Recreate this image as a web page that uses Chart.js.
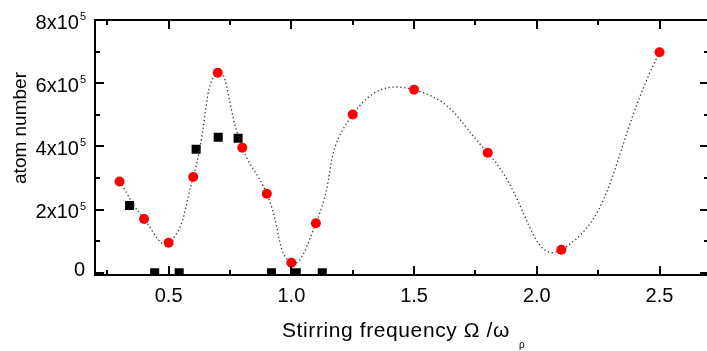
<!DOCTYPE html>
<html>
<head>
<meta charset="utf-8">
<script src="https://cdn.jsdelivr.net/npm/chart.js@4/dist/chart.umd.min.js"></script>
<style>
  html, body { margin: 0; padding: 0; background: #fff; overflow: hidden; width: 707px; height: 351px; }
  canvas { display: block; }
</style>
</head>
<body>
<canvas id="c" width="715" height="351"></canvas>
<script>
// Stirring frequency (units of omega_rho) and the atom numbers measured there
const redFreq   = [0.3, 0.4, 0.5, 0.6, 0.7, 0.8, 0.9, 1.0, 1.1, 1.25, 1.5, 1.8, 2.1, 2.5];
const redAtoms  = [289000, 170000, 95000, 303000, 633000, 396000, 250000, 32000, 157000, 501000, 579000, 380000, 73000, 698000];
const blackFreq  = [0.341, 0.443, 0.543, 0.612, 0.702, 0.783, 0.919, 1.020, 1.126];
const blackAtoms = [213000, 0, 0, 391000, 429000, 426000, 0, 0, 0];

// Axis ticks and their labels
const xTickValues = [0.5, 1.0, 1.5, 2.0, 2.5];
const xTickLabels = ['0.5', '1.0', '1.5', '2.0', '2.5'];
const yTickValues = [0, 200000, 400000, 600000, 800000];
const yTickLabels = ['0', '2x10', '4x10', '6x10', '8x10'];
const yTickPowers = ['', '5', '5', '5', '5'];

const FONT = '"Liberation Sans", Arial, Helvetica, sans-serif';

const toPoints = (xs, ys) => xs.map((x, i) => ({ x: x, y: ys[i] }));

// Axis lines only: labels and ticks are drawn by the plugin below
const bareAxis = (extra) => Object.assign({
  type: 'linear',
  display: true,
  ticks: { display: false },
  grid: { display: true, drawOnChartArea: false, drawTicks: false, tickLength: 0, color: 'rgba(0,0,0,0)' },
  border: { display: true, color: '#000', width: 2 }
}, extra);

// Inward ticks, tick labels and axis titles
const framePlugin = {
  id: 'frame',
  afterDraw(chart) {
    const { ctx, chartArea: a } = chart;
    const xs = chart.scales.x, ys = chart.scales.y;
    const L = Math.round(a.left), R = Math.round(a.right);
    const T = Math.round(a.top), B = Math.round(a.bottom);
    ctx.save();
    ctx.setLineDash([]);
    ctx.fillStyle = '#000000';

    ctx.fillRect(L - 1, T - 1, R - L + 2, 2);
    ctx.fillRect(L - 1, B - 1, R - L + 2, 2);
    ctx.fillRect(L - 1, T - 1, 2, B - T + 2);
    ctx.fillRect(R - 1, T - 1, 2, B - T + 2);

    const major = 9, minor = 5;
    // x ticks every 0.25, major every 0.5
    for (let k = 1; k <= 11; k++) {
      const v = k * 0.25;
      if (v <= xs.min || v >= xs.max) continue;
      const px = Math.round(xs.getPixelForValue(v));
      const len = (k % 2 === 0) ? major : minor;
      ctx.fillRect(px - 1, B - len, 2, len);
      ctx.fillRect(px - 1, T, 2, len);
    }
    // y ticks every 1e5, major every 2e5
    for (let k = 0; k <= 8; k++) {
      const v = k * 100000;
      const py = Math.round(ys.getPixelForValue(v));
      const len = (k % 2 === 0) ? major : minor;
      ctx.fillRect(L, py - 1, len, 2);
      ctx.fillRect(R - len, py - 1, len, 2);
    }

    // x tick labels
    ctx.font = '20px ' + FONT;
    ctx.textAlign = 'center';
    ctx.textBaseline = 'alphabetic';
    xTickValues.forEach((v, i) => {
      ctx.fillText(xTickLabels[i], xs.getPixelForValue(v), B + 27);
    });

    // y tick labels with superscript powers
    const rightEdge = L - 9;
    yTickValues.forEach((v, i) => {
      const py = ys.getPixelForValue(v);
      ctx.font = '11px ' + FONT;
      const pw = yTickPowers[i] ? ctx.measureText(yTickPowers[i]).width : 0;
      ctx.textAlign = 'left';
      if (pw) ctx.fillText(yTickPowers[i], rightEdge - pw, py + 0);
      ctx.font = '20px ' + FONT;
      ctx.textAlign = 'right';
      const dy = v === 0 ? 3 : 8.5;
      ctx.fillText(yTickLabels[i], rightEdge - pw - 1, py + dy);
    });

    // x axis title: Stirring frequency Ω /ω_ρ
    ctx.font = '21px ' + FONT;
    if ('letterSpacing' in ctx) ctx.letterSpacing = '0.6px';
    const main = 'Stirring frequency \u03A9 /\u03C9';
    const mw = ctx.measureText(main).width;
    ctx.textAlign = 'left';
    const x0 = 282;
    ctx.fillText(main, x0, 337);
    if ('letterSpacing' in ctx) ctx.letterSpacing = '0px';
    ctx.font = '10px ' + FONT;
    ctx.fillText('\u03C1', x0 + mw + 9, 348);

    // y axis title
    ctx.font = '19px ' + FONT;
    ctx.translate(25.5, 128);
    ctx.rotate(-Math.PI / 2);
    ctx.textAlign = 'center';
    ctx.fillText('atom number', 0, 0);
    ctx.restore();
  }
};

new Chart(document.getElementById('c'), {
  type: 'scatter',
  data: {
    datasets: [
      {
        label: 'series 1',
        data: toPoints(redFreq, redAtoms),
        showLine: true,
        tension: 0.5,
        borderColor: '#333',
        borderWidth: 1.3,
        borderDash: [1.3, 2.6],
        pointStyle: 'circle',
        pointRadius: 5,
        pointBorderWidth: 0,
        pointBackgroundColor: '#ff0000',
        order: 1
      },
      {
        label: 'series 2',
        data: toPoints(blackFreq, blackAtoms),
        showLine: false,
        pointStyle: 'rect',
        pointRadius: 6.4,
        pointBorderWidth: 0,
        pointBackgroundColor: '#000',
        order: 2
      }
    ]
  },
  options: {
    responsive: false,
    animation: false,
    layout: { padding: { left: 95, top: 20, right: 1, bottom: 76 } },
    plugins: { legend: { display: false }, tooltip: { enabled: false } },
    scales: {
      x:  bareAxis({ position: 'bottom', min: 0.2, max: 2.7 }),
      x2: bareAxis({ position: 'top', min: 0.2, max: 2.7 }),
      y:  bareAxis({ position: 'left', min: -7000, max: 800000 }),
      y2: bareAxis({ position: 'right', min: -7000, max: 800000 })
    }
  },
  plugins: [framePlugin]
});
</script>
</body>
</html>
